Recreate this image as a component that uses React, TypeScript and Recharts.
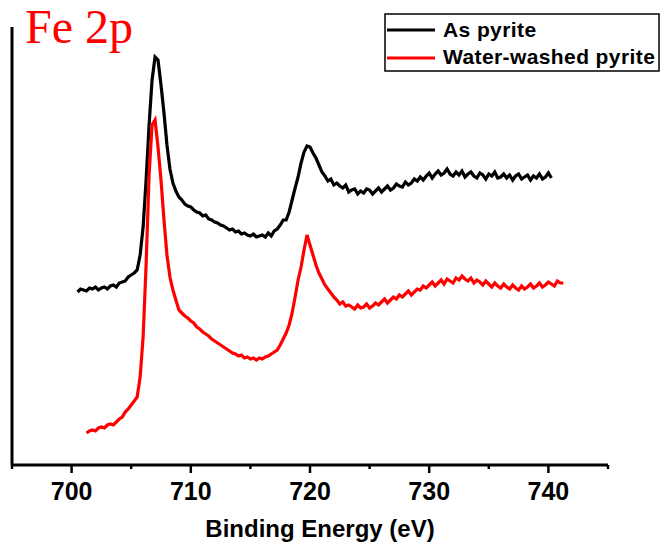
import { LineChart, Line, XAxis, YAxis } from "recharts";

// Fe 2p XPS spectra, intensity in arbitrary units (0 = bottom axis)
const energyStep = 0.25;

const asPyriteStart = 700.5;
const asPyriteCounts = [
  173, 176, 175, 174, 177, 176, 178, 175, 177, 178, 176, 179, 180, 178, 182, 183,
  184, 188, 190, 192, 195, 210, 238, 285, 340, 385, 408, 405, 380, 352, 320, 296,
  282, 274, 268, 265, 261, 259, 258, 255, 253, 252, 249, 250, 246, 245, 243, 242,
  240, 239, 237, 235, 236, 233, 234, 231, 232, 230, 229, 231, 228, 229, 230, 228,
  232, 229, 234, 236, 240, 245, 245, 253, 265, 277, 288, 302, 313, 319, 318, 312,
  307, 300, 293, 289, 284, 286, 280, 282, 279, 277, 280, 273, 275, 276, 271, 274,
  272, 276, 275, 271, 274, 277, 273, 276, 279, 275, 277, 281, 279, 278, 283, 280,
  282, 286, 284, 288, 285, 289, 292, 287, 291, 294, 290, 292, 296, 291, 289, 293,
  290, 294, 288, 291, 293, 289, 287, 292, 290, 286, 291, 289, 293, 287, 288, 291,
  287, 290, 285, 289, 291, 286, 288, 290, 285, 289, 287, 291, 286, 288, 292, 287,
];

const washedStart = 701.25;
const washedCounts = [
  32, 34, 35, 34, 37, 38, 37, 40, 41, 40, 43, 46, 48, 53, 56, 60,
  64, 68, 88, 128, 200, 290, 340, 345, 318, 285, 245, 210, 188, 175, 165, 155,
  152, 149, 147, 144, 142, 138, 136, 133, 131, 129, 126, 124, 122, 120, 118, 116,
  114, 112, 111, 109, 110, 107, 108, 106, 107, 105, 107, 106, 108, 109, 111, 113,
  115, 120, 126, 132, 140, 152, 168, 185, 198, 215, 230, 220, 210, 200, 192, 186,
  180, 176, 172, 168, 165, 161, 163, 159, 160, 158, 156, 160, 157, 158, 161, 157,
  159, 162, 160, 163, 166, 162, 165, 168, 166, 170, 168, 171, 174, 170, 173, 176,
  175, 179, 177, 180, 183, 179, 182, 185, 181, 186, 184, 182, 187, 185, 189, 186,
  184, 187, 182, 185, 183, 180, 184, 181, 178, 182, 179, 177, 181, 178, 176, 180,
  177, 175, 179, 176, 178, 181, 177, 179, 182, 178, 180, 183, 181, 179, 184, 182,
  182,
];

const seriesNames = ["As pyrite", "Water-washed pyrite"];
const seriesColors = ["#000000", "#ff0000"];
const energyTicks = [695, 700, 705, 710, 715, 720, 725, 730, 735, 740, 745];

const toPoints = (start: number, counts: number[]) =>
  counts.map((c, i) => ({ energy: start + i * energyStep, counts: c }));

const asPyrite = toPoints(asPyriteStart, asPyriteCounts);
const washed = toPoints(washedStart, washedCounts);

const sans = "'Liberation Sans', Arial, sans-serif";

function EnergyTick(props: any) {
  const { x, y, payload } = props;
  const major = payload.value % 10 === 0;
  return (
    <g>
      <line x1={x} x2={x} y1={y} y2={y + (major ? 8 : 4)} stroke="#000" strokeWidth={2.5} />
      {major && (
        <text
          x={x}
          y={y + 35}
          textAnchor="middle"
          fontFamily={sans}
          fontWeight="bold"
          fontSize={25}
          fill="#000"
        >
          {payload.value}
        </text>
      )}
    </g>
  );
}

export default function App() {
  return (
    <div style={{ position: "absolute", left: 0, top: 0, width: 664, height: 545, background: "#fff" }}>
      <LineChart
        width={664}
        height={545}
        margin={{ top: 27, right: 56, bottom: 0, left: 0 }}
      >
        <XAxis
          type="number"
          dataKey="energy"
          domain={[695, 745]}
          ticks={energyTicks}
          interval={0}
          allowDataOverflow
          height={80}
          tickSize={0}
          tickMargin={0}
          tickLine={false}
          tick={<EnergyTick />}
          axisLine={{ stroke: "#000", strokeWidth: 3 }}
          label={{
            content: () => (
              <text
                x={320}
                y={537}
                textAnchor="middle"
                fontFamily={sans}
                fontWeight="bold"
                fontSize={24}
                fill="#000"
              >
                Binding Energy (eV)
              </text>
            ),
          }}
        />
        <YAxis
          type="number"
          domain={[0, 438]}
          allowDataOverflow
          width={12}
          tick={false}
          tickLine={false}
          axisLine={{ stroke: "#000", strokeWidth: 3 }}
        />
        <Line
          data={asPyrite}
          dataKey="counts"
          name={seriesNames[0]}
          type="linear"
          stroke={seriesColors[0]}
          strokeWidth={3.2}
          dot={false}
          isAnimationActive={false}
        />
        <Line
          data={washed}
          dataKey="counts"
          name={seriesNames[1]}
          type="linear"
          stroke={seriesColors[1]}
          strokeWidth={3.2}
          dot={false}
          isAnimationActive={false}
        />
      </LineChart>
      <svg
        width={664}
        height={545}
        style={{ position: "absolute", left: 0, top: 0, pointerEvents: "none" }}
      >
        <text x={25} y={43} fontFamily="'Liberation Serif', 'Times New Roman', serif" fontSize={48} fill="#ff0000">
          Fe 2p
        </text>
        <rect x={385} y={14} width={274} height={57} fill="#fff" stroke="#000" strokeWidth={1.5} />
        {seriesNames.map((name, i) => (
          <g key={name}>
            <line x1={387} x2={435} y1={30 + i * 28} y2={30 + i * 28} stroke={seriesColors[i]} strokeWidth={3} />
            <text
              x={443}
              y={37 + i * 27}
              fontFamily={sans}
              fontWeight="bold"
              fontSize={21}
              letterSpacing={0.4}
              fill="#000"
            >
              {name}
            </text>
          </g>
        ))}
      </svg>
    </div>
  );
}
